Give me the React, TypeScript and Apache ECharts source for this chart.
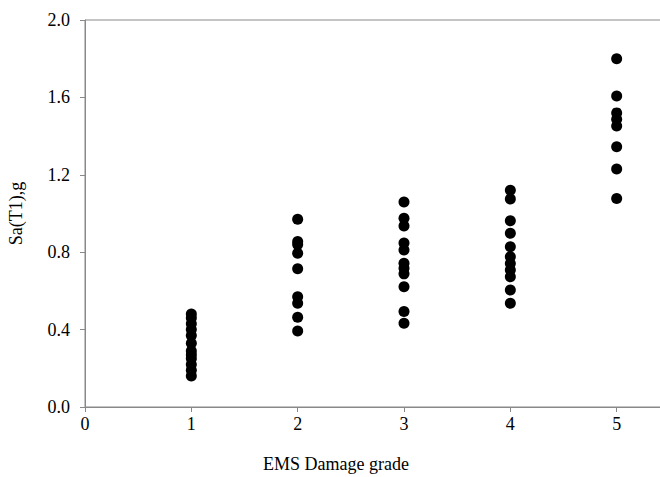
import React, { useEffect, useRef } from "react";
import * as echarts from "echarts";

const grade1 = [0.48, 0.46, 0.43, 0.40, 0.37, 0.33, 0.29, 0.27, 0.25, 0.22, 0.19, 0.16];
const grade2 = [0.97, 0.855, 0.84, 0.795, 0.714, 0.57, 0.536, 0.464, 0.393];
const grade3 = [1.06, 0.976, 0.936, 0.847, 0.812, 0.743, 0.717, 0.688, 0.622, 0.493, 0.433];
const grade4 = [1.12, 1.075, 0.963, 0.898, 0.828, 0.777, 0.742, 0.708, 0.673, 0.605, 0.536];
const grade5 = [1.8, 1.607, 1.52, 1.487, 1.452, 1.345, 1.23, 1.078];

const grades = [1, 2, 3, 4, 5];
const valuesByGrade = [grade1, grade2, grade3, grade4, grade5];
const yTicks = [0, 0.4, 0.8, 1.2, 1.6, 2.0];

export default function App() {
  const ref = useRef<HTMLDivElement>(null);
  useEffect(() => {
    document.body.style.margin = "0";
    const chart = echarts.init(ref.current!, null, { renderer: "svg" });
    const data: number[][] = [];
    grades.forEach((g, i) => valuesByGrade[i].forEach((v) => data.push([g, v])));
    const axisColor = "#898989";
    const font = "'Liberation Serif', 'Times New Roman', serif";
    chart.setOption({
      animation: false,
      backgroundColor: "#ffffff",
      grid: {
        left: 85,
        top: 20,
        bottom: 70,
        right: -63,
        show: true,
        borderColor: axisColor,
        borderWidth: 1,
        outerBoundsMode: "none",
      },
      xAxis: {
        type: "value",
        min: 0,
        max: 6,
        interval: 1,
        axisLine: { show: true, lineStyle: { color: axisColor, width: 1 } },
        axisTick: { show: true, length: 5, lineStyle: { color: axisColor } },
        splitLine: { show: false },
        axisLabel: {
          color: "#000",
          fontSize: 18,
          fontFamily: font,
          margin: 8,
          formatter: (v: number) => (v <= 5 ? String(v) : ""),
        },
      },
      yAxis: {
        type: "value",
        min: yTicks[0],
        max: yTicks[yTicks.length - 1],
        interval: 0.4,
        name: "Sa(T1),g",
        nameLocation: "middle",
        nameGap: 60,
        nameTextStyle: { color: "#000", fontSize: 18, fontFamily: font },
        axisLine: { show: true, lineStyle: { color: axisColor, width: 1 } },
        axisTick: { show: true, length: 5, lineStyle: { color: axisColor } },
        splitLine: { show: false },
        axisLabel: {
          color: "#000",
          fontSize: 18,
          fontFamily: font,
          margin: 15,
          formatter: (v: number) => v.toFixed(1),
        },
      },
      graphic: [
        {
          type: "text",
          x: 336,
          y: 464,
          style: {
            text: "EMS Damage grade",
            fill: "#000",
            fontSize: 18,
            fontFamily: font,
            align: "center",
            verticalAlign: "middle",
          },
        },
      ],
      series: [
        {
          type: "scatter",
          data,
          symbol: "circle",
          symbolSize: 11,
          itemStyle: { color: "#000000", opacity: 1 },
        },
      ],
    });
    return () => chart.dispose();
  }, []);
  return <div ref={ref} style={{ width: 660, height: 477 }} />;
}
